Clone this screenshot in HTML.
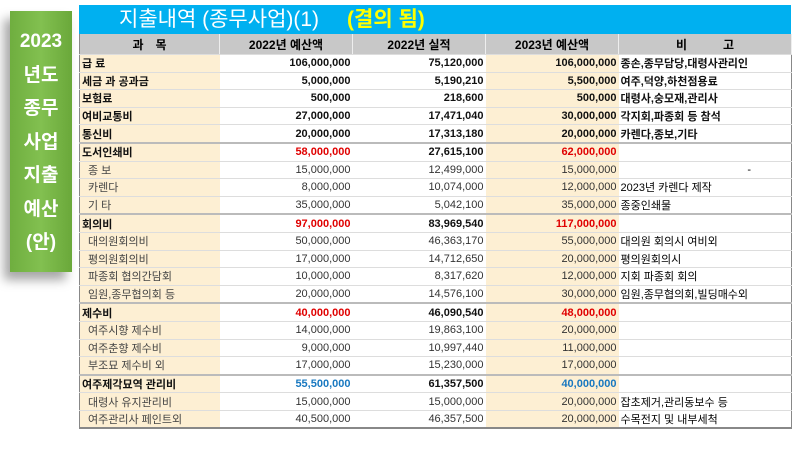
<!DOCTYPE html>
<html><head><meta charset="utf-8"><style>
body{margin:0;width:800px;height:450px;background:#fff;position:relative;overflow:hidden;font-family:"Liberation Sans","Noto Sans CJK KR",sans-serif;}
#side{position:absolute;left:10px;top:11px;width:62px;height:261px;background:linear-gradient(90deg,#6fae3f,#82c050 50%,#6aa83a);box-shadow:-6px 8px 10px rgba(0,0,0,0.35);color:#fff;font-weight:bold;font-size:19px;text-align:center;}
#side div{height:33.5px;line-height:33.5px;}
#title{position:absolute;left:79px;top:5px;width:712px;height:29px;background:#00b0f0;color:#fff;font-size:21px;line-height:29px;}
#title span.t{position:absolute;left:40px;}
#title span.g{position:absolute;left:268px;color:#ffff00;font-weight:bold;}
table{position:absolute;left:79px;top:34px;border-collapse:collapse;table-layout:fixed;width:712px;font-size:11px;}
td{height:16.6px;padding:0 2px;border-bottom:1px solid #ddd;white-space:nowrap;overflow:hidden;}
tr.h td{height:20px;background:#c8c8c8;font-weight:bold;font-size:12px;text-align:center;border-right:1px solid #eee;}
td.c1{background:#fdefd3;}
td.c4{background:#fdefd3;}
td.n{text-align:right;color:#333;}
tr.b td{font-weight:bold;color:#111;}
tr.sep td{border-top:2px solid #bbb;}
tr.s td.c1{padding-left:8px;color:#444;}
.red{color:#e00000!important}.blue{color:#1878c0!important}
table{border-left:1px solid #888;border-right:1px solid #888;border-bottom:2px solid #888;}
</style></head><body>
<div id="side"><div style="margin-top:14px">2023</div><div>년도</div><div>종무</div><div>사업</div><div>지출</div><div>예산</div><div>(안)</div></div>
<div id="title"><span class="t">지출내역 (종무사업)(1)</span><span class="g">(결의 됨)</span></div>
<table>
<colgroup><col style="width:140px"><col style="width:133px"><col style="width:133px"><col style="width:133px"><col style="width:173px"></colgroup>
<tr class="h"><td>과　목</td><td>2022년 예산액</td><td>2022년 실적</td><td>2023년 예산액</td><td>비　　　고</td></tr>
<tr class="b"><td class="c1">급 료</td><td class="n">106,000,000</td><td class="n">75,120,000</td><td class="n c4">106,000,000</td><td>종손,종무담당,대령사관리인</td></tr>
<tr class="b"><td class="c1">세금 과 공과금</td><td class="n">5,000,000</td><td class="n">5,190,210</td><td class="n c4">5,500,000</td><td>여주,덕양,하천점용료</td></tr>
<tr class="b"><td class="c1">보험료</td><td class="n">500,000</td><td class="n">218,600</td><td class="n c4">500,000</td><td>대령사,숭모재,관리사</td></tr>
<tr class="b"><td class="c1">여비교통비</td><td class="n">27,000,000</td><td class="n">17,471,040</td><td class="n c4">30,000,000</td><td>각지회,파종회 등 참석</td></tr>
<tr class="b"><td class="c1">통신비</td><td class="n">20,000,000</td><td class="n">17,313,180</td><td class="n c4">20,000,000</td><td>카렌다,종보,기타</td></tr>
<tr class="b sep"><td class="c1">도서인쇄비</td><td class="n red">58,000,000</td><td class="n">27,615,100</td><td class="n c4 red">62,000,000</td><td></td></tr>
<tr class="s"><td class="c1">종 보</td><td class="n">15,000,000</td><td class="n">12,499,000</td><td class="n c4">15,000,000</td><td style="text-align:right;padding-right:40px">-</td></tr>
<tr class="s"><td class="c1">카렌다</td><td class="n">8,000,000</td><td class="n">10,074,000</td><td class="n c4">12,000,000</td><td>2023년 카렌다 제작</td></tr>
<tr class="s"><td class="c1">기 타</td><td class="n">35,000,000</td><td class="n">5,042,100</td><td class="n c4">35,000,000</td><td>종중인쇄물</td></tr>
<tr class="b sep"><td class="c1">회의비</td><td class="n red">97,000,000</td><td class="n">83,969,540</td><td class="n c4 red">117,000,000</td><td></td></tr>
<tr class="s"><td class="c1">대의원회의비</td><td class="n">50,000,000</td><td class="n">46,363,170</td><td class="n c4">55,000,000</td><td>대의원 회의시 여비외</td></tr>
<tr class="s"><td class="c1">평의원회의비</td><td class="n">17,000,000</td><td class="n">14,712,650</td><td class="n c4">20,000,000</td><td>평의원회의시</td></tr>
<tr class="s"><td class="c1">파종회 협의간담회</td><td class="n">10,000,000</td><td class="n">8,317,620</td><td class="n c4">12,000,000</td><td>지회 파종회 회의</td></tr>
<tr class="s"><td class="c1">임원,종무협의회 등</td><td class="n">20,000,000</td><td class="n">14,576,100</td><td class="n c4">30,000,000</td><td>임원,종무협의회,빌딩매수외</td></tr>
<tr class="b sep"><td class="c1">제수비</td><td class="n red">40,000,000</td><td class="n">46,090,540</td><td class="n c4 red">48,000,000</td><td></td></tr>
<tr class="s"><td class="c1">여주시향 제수비</td><td class="n">14,000,000</td><td class="n">19,863,100</td><td class="n c4">20,000,000</td><td></td></tr>
<tr class="s"><td class="c1">여주춘향 제수비</td><td class="n">9,000,000</td><td class="n">10,997,440</td><td class="n c4">11,000,000</td><td></td></tr>
<tr class="s"><td class="c1">부조묘 제수비 외</td><td class="n">17,000,000</td><td class="n">15,230,000</td><td class="n c4">17,000,000</td><td></td></tr>
<tr class="b sep"><td class="c1">여주제각묘역 관리비</td><td class="n blue">55,500,000</td><td class="n">61,357,500</td><td class="n c4 blue">40,000,000</td><td></td></tr>
<tr class="s"><td class="c1">대령사 유지관리비</td><td class="n">15,000,000</td><td class="n">15,000,000</td><td class="n c4">20,000,000</td><td>잡초제거,관리동보수 등</td></tr>
<tr class="s"><td class="c1">여주관리사 페인트외</td><td class="n">40,500,000</td><td class="n">46,357,500</td><td class="n c4">20,000,000</td><td>수목전지 및 내부세척</td></tr>
</table>
</body></html>
